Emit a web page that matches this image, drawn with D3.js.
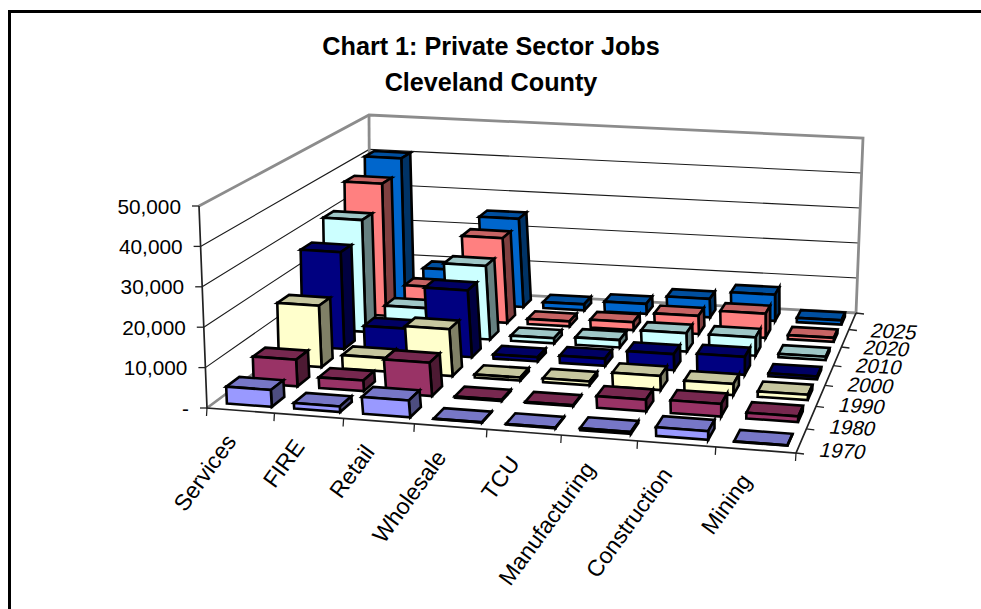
<!DOCTYPE html>
<html>
<head>
<meta charset="utf-8">
<title>Private Sector Jobs</title>
<script src="https://cdn.jsdelivr.net/npm/d3@7"></script>
<style>
  html, body { margin: 0; padding: 0; background: #fff; }
  svg { display: block; }
  text { font-family: "Liberation Sans", Arial, sans-serif; fill: #000; }
</style>
</head>
<body>
<svg id="chart" width="981" height="609"></svg>
<script>
// Employment by sector, one list per year, in category order.
const categories = ["Services", "FIRE", "Retail", "Wholesale", "TCU", "Manufacturing", "Construction", "Mining"];
const years = ["1970", "1980", "1990", "2000", "2010", "2020", "2025"];
const jobs1970 = [4200, 1400, 4200, 100, 150, 500, 2200, 100];
const jobs1980 = [6800, 2700, 8500, 300, 200, 3000, 3300, 1500];
const jobs1990 = [16000, 3500, 12200, 800, 1000, 3700, 2900, 1400];
const jobs2000 = [25800, 6500, 17800, 1100, 1900, 4300, 4800, 800];
const jobs2010 = [30500, 7500, 20000, 1400, 2000, 5000, 5000, 900];
const jobs2020 = [36800, 8800, 23500, 1400, 2200, 5000, 6700, 1100];
const jobs2025 = [40500, 9500, 25000, 1700, 2800, 5200, 7400, 1200];
const seriesValues = [jobs1970, jobs1980, jobs1990, jobs2000, jobs2010, jobs2020, jobs2025];
const seriesColors = ["#9999FF", "#993366", "#FFFFCC", "#000080", "#CCFFFF", "#FF8080", "#0066CC"];
const valueTicks = [0, 10000, 20000, 30000, 40000, 50000];

const svg = d3.select("#chart");

// Outer chart-area edge: only the top and left sides fall inside the page.
svg.append("path")
  .attr("d", "M981,11.5H9.5V609")
  .attr("fill", "none").attr("stroke", "#000").attr("stroke-width", 3);

// Title
const title = svg.append("text").attr("text-anchor", "middle")
  .attr("font-weight", "bold").attr("font-size", 25.2);
title.append("tspan").attr("x", 491).attr("y", 55).text("Chart 1: Private Sector Jobs");
title.append("tspan").attr("x", 491).attr("y", 91).text("Cleveland County");

// Box corners in screen space: floor and the plane at the top of the value axis.
const floorQuad = [[207, 408], [796, 453], [856, 313], [370, 287]];
const ceilQuad = [[199, 206], [811, 260], [863, 138], [369, 115]];

// Projective map of the unit square onto a quadrilateral.
function squareToQuad(q) {
  const [[x0, y0], [x1, y1], [x2, y2], [x3, y3]] = q;
  const dx1 = x1 - x2, dx2 = x3 - x2, sx = x0 - x1 + x2 - x3;
  const dy1 = y1 - y2, dy2 = y3 - y2, sy = y0 - y1 + y2 - y3;
  const den = dx1 * dy2 - dx2 * dy1;
  const g = (sx * dy2 - dx2 * sy) / den;
  const h = (dx1 * sy - sx * dy1) / den;
  const a = x1 - x0 + g * x1, b = x3 - x0 + h * x3;
  const d = y1 - y0 + g * y1, e = y3 - y0 + h * y3;
  return (s, t) => {
    const w = g * s + h * t + 1;
    return [(a * s + b * t + x0) / w, (d * s + e * t + y0) / w];
  };
}
const floorMap = squareToQuad(floorQuad);
const ceilMap = squareToQuad(ceilQuad);

const uScale = d3.scaleBand().domain(categories).range([0.003, 1.003]).paddingInner(0.33).paddingOuter(0.165);
const vScale = d3.scaleBand().domain(years).range([0, 1]).paddingInner(0.52).paddingOuter(0.26);
const zScale = d3.scaleLinear().domain([0, 50000]).range([0, 1]);

// u, v across and into the floor (0..1), value in jobs.
function project(u, v, value) {
  const a = floorMap(u, v), b = ceilMap(u, v), k = zScale(value);
  return [a[0] + (b[0] - a[0]) * k, a[1] + (b[1] - a[1]) * k];
}
const poly = pts => "M" + pts.map(p => p.map(n => n.toFixed(2)).join(",")).join("L") + "Z";
const line = d3.line();

// Walls
const walls = svg.append("g");
valueTicks.slice(1, -1).forEach(t => {
  walls.append("path").attr("d", line([project(0, 0, t), project(0, 1, t), project(1, 1, t)]))
    .attr("fill", "none").attr("stroke", "#1a1a1a").attr("stroke-width", 1.1);
});
walls.append("path")
  .attr("d", line([project(0, 0, 0), project(0, 1, 0), project(1, 1, 0), project(1, 1, 50000), project(0, 1, 50000), project(0, 0, 50000)]))
  .attr("fill", "none").attr("stroke", "#8c8c8c").attr("stroke-width", 2.8);
walls.append("path").attr("d", line([project(0, 1, 0), project(0, 1, 50000)]))
  .attr("fill", "none").attr("stroke", "#8c8c8c").attr("stroke-width", 2.8);

// Axes
const axes = svg.append("g").attr("fill", "none").attr("stroke", "#222");
axes.append("path").attr("d", line([project(0, 0, 50000), project(0, 0, 0), project(1, 0, 0), project(1, 1, 0)]))
  .attr("stroke-width", 1.7);
valueTicks.forEach(t => {
  const p = project(0, 0, t);
  axes.append("path").attr("d", `M${p[0]},${p[1]}h-7`).attr("stroke-width", 1.3);
  svg.append("text").attr("x", p[0] - 18).attr("y", p[1] + 7.5).attr("text-anchor", "end")
    .attr("font-size", 20.8).text(t === 0 ? "-" : d3.format(",")(t));
});
d3.range(categories.length + 1).forEach(i => {
  const p = project(i / categories.length, 0, 0);
  axes.append("path").attr("d", `M${p[0]},${p[1]}l-0.5,8`).attr("stroke-width", 1.3);
});
d3.range(years.length + 1).forEach(i => {
  const p = project(1, i / years.length, 0);
  axes.append("path").attr("d", `M${p[0]},${p[1]}l8,1`).attr("stroke-width", 1.3);
});

// Category and year labels
categories.forEach(c => {
  const p = project(uScale(c) + uScale.bandwidth() / 2, 0, 0);
  svg.append("text").attr("text-anchor", "end").attr("font-size", 23)
    .attr("transform", `translate(${p[0] - 5},${p[1] + 31}) rotate(-54)`).text(c);
});
years.forEach(y => {
  const p = project(1, vScale(y) + vScale.bandwidth() / 2, 0);
  svg.append("text").attr("font-size", 20.5)
    .attr("transform", `translate(${p[0] + 17},${p[1] + 16}) rotate(3) skewX(-12)`).text(y);
});

// Bars, painted from the back row forward and left to right within a row.
const bars = [];
d3.range(years.length - 1, -1, -1).forEach(s => {
  categories.forEach((c, i) => bars.push({ c, year: years[s], color: seriesColors[s], value: seriesValues[s][i] }));
});
const barG = svg.append("g").attr("stroke", "#000").attr("stroke-width", 2.6).attr("stroke-linejoin", "miter")
  .selectAll("g").data(bars).join("g");
function corners(d) {
  const u0 = uScale(d.c), u1 = u0 + uScale.bandwidth();
  const v0 = vScale(d.year), v1 = v0 + vScale.bandwidth();
  return { u0, u1, v0, v1 };
}
barG.append("path").attr("d", d => {
  const { u0, u1, v0, v1 } = corners(d);
  return poly([project(u0, v0, d.value), project(u1, v0, d.value), project(u1, v1, d.value), project(u0, v1, d.value)]);
}).attr("fill", d => d3.rgb(d.color).darker(0.7));
barG.append("path").attr("d", d => {
  const { u1, v0, v1 } = corners(d);
  return poly([project(u1, v0, 0), project(u1, v1, 0), project(u1, v1, d.value), project(u1, v0, d.value)]);
}).attr("fill", d => { const c = d3.rgb(d.color); return d3.rgb(c.r * 0.5, c.g * 0.5, c.b * 0.5); });
barG.append("path").attr("d", d => {
  const { u0, u1, v0 } = corners(d);
  return poly([project(u0, v0, 0), project(u1, v0, 0), project(u1, v0, d.value), project(u0, v0, d.value)]);
}).attr("fill", d => d.color);
</script>
</body>
</html>
